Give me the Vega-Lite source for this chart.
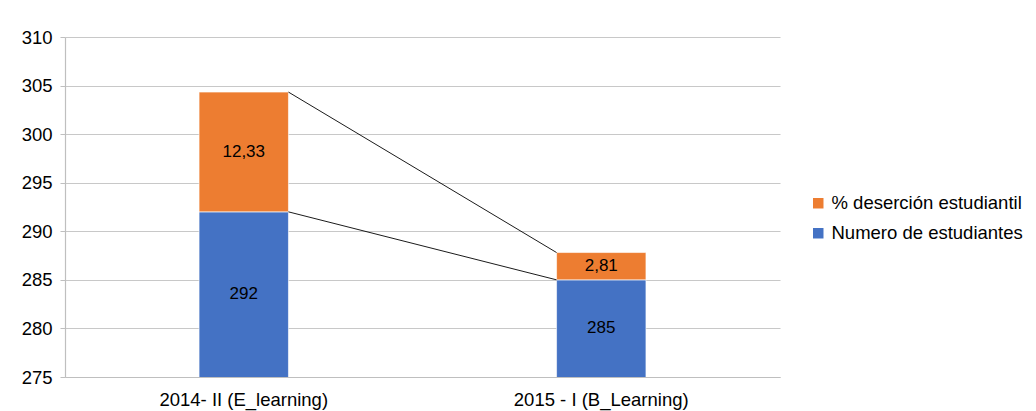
{
  "$schema": "https://vega.github.io/schema/vega-lite/v6.json",
  "width": 715,
  "height": 340,
  "autosize": {"type": "none"},
  "padding": {"left": 65, "top": 37, "right": 256, "bottom": 34},
  "background": "white",
  "config": {
    "view": {"stroke": null},
    "font": "Liberation Sans"
  },
  "datasets": {
    "bars": [
      {"periodo": "2014- II (E_learning)", "serie": "Numero de estudiantes", "valor": 292, "etiqueta": "292", "orden": 1},
      {"periodo": "2014- II (E_learning)", "serie": "% deserción estudiantil", "valor": 12.33, "etiqueta": "12,33", "orden": 2},
      {"periodo": "2015 - I (B_Learning)", "serie": "Numero de estudiantes", "valor": 285, "etiqueta": "285", "orden": 1},
      {"periodo": "2015 - I (B_Learning)", "serie": "% deserción estudiantil", "valor": 2.81, "etiqueta": "2,81", "orden": 2}
    ],
    "lineas": [
      {"desde": "2014- II (E_learning)", "hasta": "2015 - I (B_Learning)", "v1": 304.33, "v2": 287.81},
      {"desde": "2014- II (E_learning)", "hasta": "2015 - I (B_Learning)", "v1": 292, "v2": 285}
    ]
  },
  "layer": [
    {
      "data": {"name": "bars"},
      "transform": [
        {"stack": "valor", "groupby": ["periodo"], "sort": [{"field": "orden", "order": "ascending"}], "as": ["y0", "y1"]}
      ],
      "mark": {"type": "bar", "clip": true, "stroke": "white", "strokeWidth": 0.6},
      "encoding": {
        "x": {
          "field": "periodo", "type": "nominal", "sort": null,
          "scale": {"paddingInner": 0.75, "paddingOuter": 0.375},
          "axis": {"title": null, "labelAngle": 0, "labelFontSize": 18.5, "labelColor": "#000000", "ticks": false, "labelPadding": 13, "domainColor": "#bfbfbf", "domainWidth": 1.2, "labelLimit": 400}
        },
        "y": {
          "field": "y1", "type": "quantitative",
          "scale": {"domain": [275, 310], "nice": false, "zero": false},
          "axis": {"title": null, "values": [275, 280, 285, 290, 295, 300, 305, 310], "labelFontSize": 18.5, "labelColor": "#000000", "labelPadding": 8, "tickSize": 5, "tickColor": "#bfbfbf", "domainColor": "#bfbfbf", "domainWidth": 1.2, "gridColor": "#c8c8c8", "gridWidth": 1.2}
        },
        "y2": {"field": "y0"},
        "color": {
          "field": "serie", "type": "nominal",
          "scale": {"domain": ["% deserción estudiantil", "Numero de estudiantes"], "range": ["#ED7D31", "#4472C4"]},
          "legend": {"title": null, "orient": "none", "legendX": 744, "legendY": 157, "labelFontSize": 18.5, "labelColor": "#000000", "labelLimit": 400, "symbolType": "square", "symbolSize": 110, "symbolStrokeWidth": 0, "rowPadding": 11, "labelOffset": 4}
        }
      }
    },
    {
      "data": {"name": "bars"},
      "transform": [
        {"stack": "valor", "groupby": ["periodo"], "sort": [{"field": "orden", "order": "ascending"}], "as": ["y0", "y1"]},
        {"calculate": "(max(datum.y0, 275) + datum.y1) / 2", "as": "medio"}
      ],
      "mark": {"type": "text", "fontSize": 17, "color": "#000000", "baseline": "middle"},
      "encoding": {
        "x": {"field": "periodo", "type": "nominal", "sort": null},
        "y": {"field": "medio", "type": "quantitative"},
        "text": {"field": "etiqueta"}
      }
    },
    {
      "data": {"name": "lineas"},
      "mark": {"type": "rule", "color": "#000000", "strokeWidth": 0.9},
      "encoding": {
        "x": {"field": "desde", "type": "nominal", "bandPosition": 1},
        "x2": {"field": "hasta", "bandPosition": 0},
        "y": {"field": "v1", "type": "quantitative"},
        "y2": {"field": "v2"}
      }
    }
  ]
}
